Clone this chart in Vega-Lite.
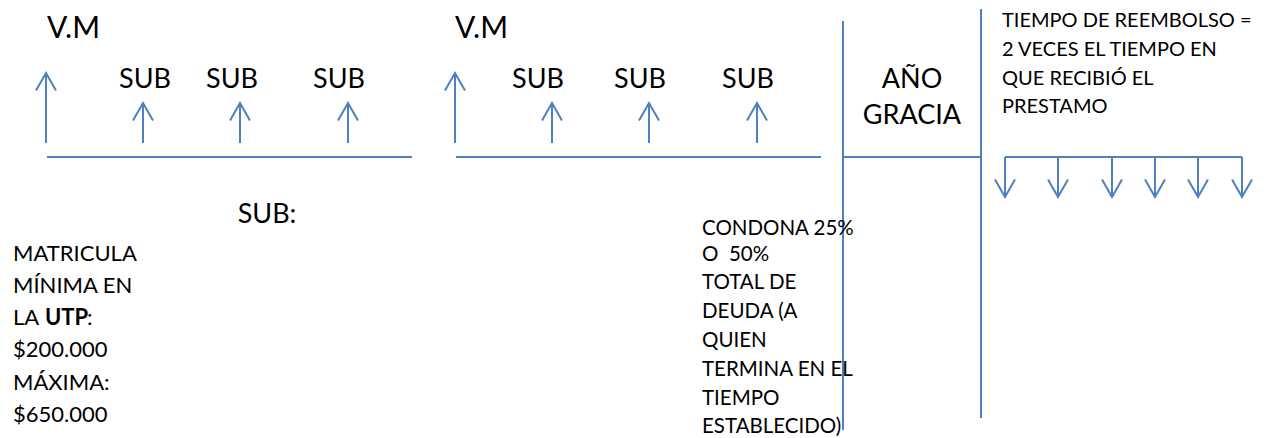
{
  "$schema": "https://vega.github.io/schema/vega-lite/v6.json",
  "width": 1272,
  "height": 438,
  "padding": 0,
  "autosize": {"type": "fit", "contains": "padding"},
  "background": "white",
  "config": {"view": {"stroke": null}},
  "datasets": {
    "lines": [
      {"x": 47, "y": 157, "x2": 412, "y2": 157},
      {"x": 456, "y": 157, "x2": 821, "y2": 157},
      {"x": 843, "y": 21, "x2": 843, "y2": 430},
      {"x": 981, "y": 9, "x2": 981, "y2": 418},
      {"x": 843, "y": 157, "x2": 981, "y2": 157},
      {"x": 1005, "y": 157, "x2": 1242, "y2": 157}
    ],
    "arrows": [
      {"x": 46, "base": 143, "tip": 73, "dir": "up"},
      {"x": 143, "base": 143, "tip": 103, "dir": "up"},
      {"x": 240, "base": 143, "tip": 103, "dir": "up"},
      {"x": 348, "base": 143, "tip": 103, "dir": "up"},
      {"x": 455, "base": 143, "tip": 73, "dir": "up"},
      {"x": 552, "base": 143, "tip": 103, "dir": "up"},
      {"x": 649, "base": 143, "tip": 103, "dir": "up"},
      {"x": 757, "base": 143, "tip": 103, "dir": "up"},
      {"x": 1005, "base": 157, "tip": 197, "dir": "down"},
      {"x": 1058, "base": 157, "tip": 197, "dir": "down"},
      {"x": 1112, "base": 157, "tip": 197, "dir": "down"},
      {"x": 1155, "base": 157, "tip": 197, "dir": "down"},
      {"x": 1198, "base": 157, "tip": 197, "dir": "down"},
      {"x": 1242, "base": 157, "tip": 197, "dir": "down"}
    ],
    "big": [
      {"x": 47, "y": 38, "text": "V.M"},
      {"x": 455, "y": 38, "text": "V.M"}
    ],
    "heads": [
      {"x": 145, "y": 88, "text": "SUB"},
      {"x": 232, "y": 88, "text": "SUB"},
      {"x": 339, "y": 88, "text": "SUB"},
      {"x": 538, "y": 88, "text": "SUB"},
      {"x": 640, "y": 88, "text": "SUB"},
      {"x": 748, "y": 88, "text": "SUB"},
      {"x": 912, "y": 88, "text": "AÑO"},
      {"x": 912, "y": 124, "text": "GRACIA"},
      {"x": 267, "y": 223, "text": "SUB:"}
    ],
    "leftnotes": [
      {"x": 13, "y": 261, "text": "MATRICULA", "weight": "normal"},
      {"x": 13, "y": 293, "text": "MÍNIMA EN", "weight": "normal"},
      {"x": 13, "y": 325, "text": "LA", "weight": "normal"},
      {"x": 45, "y": 325, "text": "UTP", "weight": "bold"},
      {"x": 87, "y": 325, "text": ":", "weight": "normal"},
      {"x": 13, "y": 357, "text": "$200.000", "weight": "normal"},
      {"x": 13, "y": 390, "text": "MÁXIMA:", "weight": "normal"},
      {"x": 13, "y": 422, "text": "$650.000", "weight": "normal"}
    ],
    "midnotes": [
      {"x": 702, "y": 235, "text": "CONDONA 25%"},
      {"x": 702, "y": 261, "text": "O\u00a0 50%"},
      {"x": 702, "y": 289, "text": "TOTAL DE"},
      {"x": 702, "y": 318, "text": "DEUDA (A"},
      {"x": 702, "y": 347, "text": "QUIEN"},
      {"x": 702, "y": 376, "text": "TERMINA EN EL"},
      {"x": 702, "y": 405, "text": "TIEMPO"},
      {"x": 702, "y": 433, "text": "ESTABLECIDO)"}
    ],
    "rightnotes": [
      {"x": 1002, "y": 27, "text": "TIEMPO DE REEMBOLSO ="},
      {"x": 1002, "y": 56, "text": "2 VECES EL TIEMPO EN"},
      {"x": 1002, "y": 85, "text": "QUE RECIBIÓ EL"},
      {"x": 1002, "y": 113, "text": "PRESTAMO"}
    ]
  },
  "encoding": {
    "x": {"type": "quantitative", "scale": {"domain": [0, 1272], "nice": false, "zero": false}, "axis": null},
    "y": {"type": "quantitative", "scale": {"domain": [0, 438], "nice": false, "zero": false, "reverse": true}, "axis": null}
  },
  "layer": [
    {
      "data": {"name": "lines"},
      "mark": {"type": "rule", "color": "#4f81bd", "strokeWidth": 2},
      "encoding": {
        "x": {"field": "x", "type": "quantitative"},
        "y": {"field": "y", "type": "quantitative"},
        "x2": {"field": "x2"},
        "y2": {"field": "y2"}
      }
    },
    {
      "data": {"name": "arrows"},
      "mark": {"type": "rule", "color": "#4f81bd", "strokeWidth": 2},
      "encoding": {
        "x": {"field": "x", "type": "quantitative"},
        "y": {"field": "base", "type": "quantitative"},
        "y2": {"field": "tip"}
      }
    },
    {
      "data": {"name": "arrows"},
      "transform": [{"filter": "datum.dir === 'up'"}],
      "mark": {"type": "point", "shape": "M-1,1.75L0,0L1,1.75", "size": 400, "filled": false, "stroke": "#4f81bd", "strokeWidth": 2, "opacity": 1},
      "encoding": {
        "x": {"field": "x", "type": "quantitative"},
        "y": {"field": "tip", "type": "quantitative"}
      }
    },
    {
      "data": {"name": "arrows"},
      "transform": [{"filter": "datum.dir === 'down'"}],
      "mark": {"type": "point", "shape": "M-1,-1.75L0,0L1,-1.75", "size": 400, "filled": false, "stroke": "#4f81bd", "strokeWidth": 2, "opacity": 1},
      "encoding": {
        "x": {"field": "x", "type": "quantitative"},
        "y": {"field": "tip", "type": "quantitative"}
      }
    },
    {
      "data": {"name": "big"},
      "mark": {"type": "text", "font": "Lato", "fontSize": 30, "align": "left", "baseline": "alphabetic", "color": "#000"},
      "encoding": {
        "x": {"field": "x", "type": "quantitative"},
        "y": {"field": "y", "type": "quantitative"},
        "text": {"field": "text"}
      }
    },
    {
      "data": {"name": "heads"},
      "mark": {"type": "text", "font": "Lato", "fontSize": 27, "align": "center", "baseline": "alphabetic", "color": "#000"},
      "encoding": {
        "x": {"field": "x", "type": "quantitative"},
        "y": {"field": "y", "type": "quantitative"},
        "text": {"field": "text"}
      }
    },
    {
      "data": {"name": "leftnotes"},
      "transform": [{"filter": "datum.weight === 'normal'"}],
      "mark": {"type": "text", "font": "Lato", "fontSize": 22, "align": "left", "baseline": "alphabetic", "color": "#000"},
      "encoding": {
        "x": {"field": "x", "type": "quantitative"},
        "y": {"field": "y", "type": "quantitative"},
        "text": {"field": "text"}
      }
    },
    {
      "data": {"name": "leftnotes"},
      "transform": [{"filter": "datum.weight === 'bold'"}],
      "mark": {"type": "text", "font": "Lato", "fontSize": 22, "fontWeight": "bold", "align": "left", "baseline": "alphabetic", "color": "#000"},
      "encoding": {
        "x": {"field": "x", "type": "quantitative"},
        "y": {"field": "y", "type": "quantitative"},
        "text": {"field": "text"}
      }
    },
    {
      "data": {"name": "midnotes"},
      "mark": {"type": "text", "font": "Lato", "fontSize": 20.5, "align": "left", "baseline": "alphabetic", "color": "#000"},
      "encoding": {
        "x": {"field": "x", "type": "quantitative"},
        "y": {"field": "y", "type": "quantitative"},
        "text": {"field": "text"}
      }
    },
    {
      "data": {"name": "rightnotes"},
      "mark": {"type": "text", "font": "Lato", "fontSize": 20, "align": "left", "baseline": "alphabetic", "color": "#000"},
      "encoding": {
        "x": {"field": "x", "type": "quantitative"},
        "y": {"field": "y", "type": "quantitative"},
        "text": {"field": "text"}
      }
    }
  ]
}
